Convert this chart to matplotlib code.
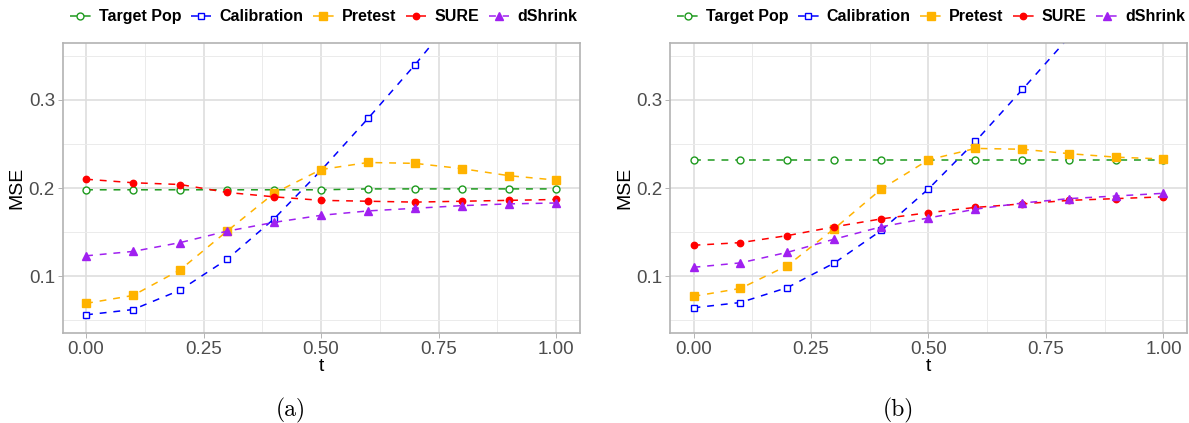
import matplotlib
matplotlib.use("Agg")
import matplotlib.pyplot as plt
from matplotlib.ticker import MultipleLocator

plt.rcParams['font.family'] = ['Liberation Sans', 'DejaVu Sans']

# data
t = [0.0, 0.1, 0.2, 0.3, 0.4, 0.5, 0.6, 0.7, 0.8, 0.9, 1.0]

target_a = [0.198, 0.198, 0.198, 0.198, 0.198, 0.198, 0.199, 0.199, 0.199, 0.199, 0.199]
calib_a = [0.056, 0.062, 0.084, 0.119, 0.165, 0.220, 0.279, 0.340, 0.405, 0.480, 0.560]
pretest_a = [0.069, 0.078, 0.107, 0.151, 0.194, 0.221, 0.229, 0.228, 0.222, 0.214, 0.209]
sure_a = [0.210, 0.206, 0.204, 0.195, 0.190, 0.186, 0.185, 0.184, 0.185, 0.186, 0.187]
dshrink_a = [0.123, 0.128, 0.138, 0.151, 0.161, 0.169, 0.174, 0.177, 0.180, 0.182, 0.183]

target_b = [0.232, 0.232, 0.232, 0.232, 0.232, 0.232, 0.232, 0.232, 0.232, 0.232, 0.232]
calib_b = [0.064, 0.070, 0.087, 0.115, 0.152, 0.199, 0.253, 0.312, 0.372, 0.435, 0.500]
pretest_b = [0.077, 0.086, 0.112, 0.154, 0.199, 0.232, 0.245, 0.244, 0.239, 0.235, 0.233]
sure_b = [0.135, 0.138, 0.146, 0.156, 0.165, 0.172, 0.178, 0.182, 0.186, 0.188, 0.190]
dshrink_b = [0.110, 0.115, 0.127, 0.142, 0.156, 0.166, 0.176, 0.183, 0.188, 0.191, 0.194]

names = ["Target Pop", "Calibration", "Pretest", "SURE", "dShrink"]
colors = ["#1E9A1E", "#0000FF", "#FFB300", "#FF0000", "#A020F0"]
markers = ["o", "s", "s", "o", "^"]
msizes = [5.0, 5.0, 6.0, 4.6, 6.3]
filled = [False, False, True, True, True]

panels = [
    ([target_a, calib_a, pretest_a, sure_a, dshrink_a], "(a)", 0.0526),
    ([target_b, calib_b, pretest_b, sure_b, dshrink_b], "(b)", 0.5635),
]

fig = plt.figure(figsize=(11.89, 4.23), dpi=100)

for series, cap, x0 in panels:
    ax = fig.add_axes([x0, 0.212, 0.4348, 0.687])
    for ys, name, c, m, ms, f in zip(series, names, colors, markers, msizes, filled):
        ax.plot(t, ys, color=c, lw=1.1, linestyle=(0, (4.5, 4.5)), marker=m,
                markersize=ms, markerfacecolor=c if f else "white",
                markeredgecolor=c, markeredgewidth=1.0, label=name)
    ax.set_xlim(-0.05, 1.05)
    ax.set_ylim(0.035, 0.365)
    ax.xaxis.set_major_locator(MultipleLocator(0.25))
    ax.xaxis.set_minor_locator(MultipleLocator(0.125))
    ax.yaxis.set_major_locator(MultipleLocator(0.1))
    ax.yaxis.set_minor_locator(MultipleLocator(0.05))
    ax.set_xticks([0.0, 0.25, 0.5, 0.75, 1.0], ["0.00", "0.25", "0.50", "0.75", "1.00"])
    ax.set_yticks([0.1, 0.2, 0.3], ["0.1", "0.2", "0.3"])
    ax.grid(which="major", color="#DEDEDE", lw=1.2)
    ax.grid(which="minor", color="#EBEBEB", lw=0.7)
    ax.set_axisbelow(True)
    for sp in ax.spines.values():
        sp.set_color("#B3B3B3")
        sp.set_linewidth(1.2)
    ax.tick_params(which="major", length=3.5, width=0.7, color="#B3B3B3",
                   labelsize=13.5, labelcolor="#4D4D4D", pad=2)
    ax.tick_params(which="minor", length=0)
    ax.set_xlabel("t", fontsize=14, labelpad=0)
    ax.set_ylabel("MSE", fontsize=14, labelpad=2)
    ax.legend(loc="lower center", bbox_to_anchor=(0.505, 1.03), ncol=5, frameon=False,
              prop={"weight": "bold", "size": 11.5}, handlelength=1.3,
              handletextpad=0.5, columnspacing=0.6, borderaxespad=0.2)
    fig.text(x0 + 0.4348 / 2 - 0.025, 0.03, cap, fontsize=17, family="cmr10",
             ha="center", va="center")

fig.savefig("out.png", dpi=100)
